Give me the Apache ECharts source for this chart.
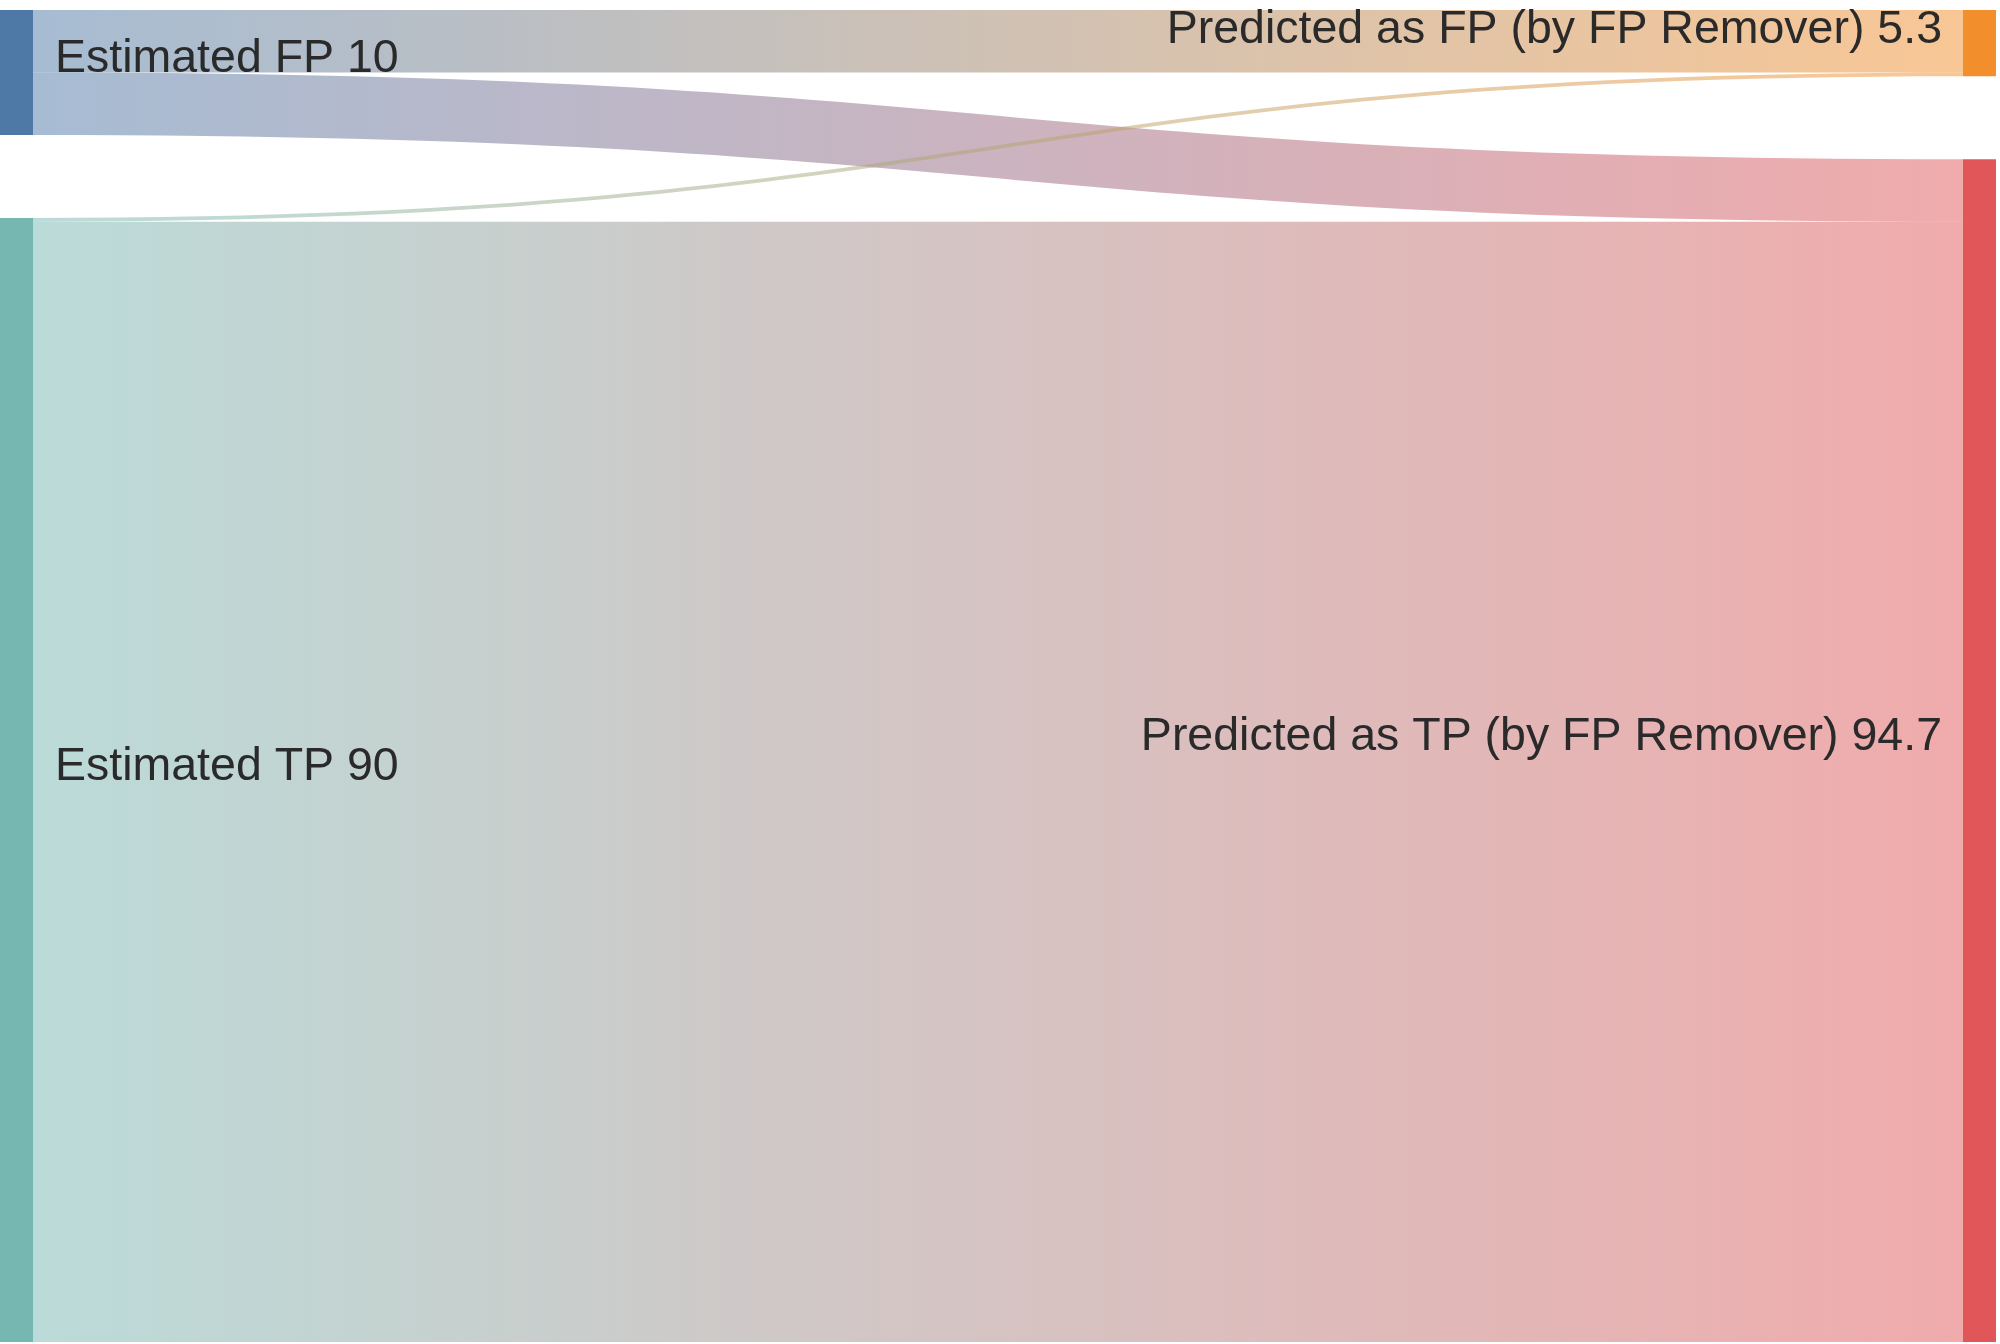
<!DOCTYPE html>
<html>
<head>
<meta charset="utf-8">
<style>html,body{margin:0;padding:0;background:#fff}#chart{width:2000px;height:1344px}</style>
<script src="https://cdn.jsdelivr.net/npm/echarts@6/dist/echarts.min.js"></script>
</head>
<body>
<div id="chart"></div>
<script>
const nodeNames = ['Estimated FP', 'Estimated TP', 'Predicted as FP (by FP Remover)', 'Predicted as TP (by FP Remover)'];
const nodeValues = [10, 90, 5.3, 94.7];
const nodeColors = ['#4e79a7', '#76b7b2', '#f28e2b', '#e15759'];
const linkSources = ['Estimated FP', 'Estimated FP', 'Estimated TP', 'Estimated TP'];
const linkTargets = ['Predicted as FP (by FP Remover)', 'Predicted as TP (by FP Remover)', 'Predicted as FP (by FP Remover)', 'Predicted as TP (by FP Remover)'];
const linkValues = [5.0, 5.0, 0.3, 89.7];

const chart = echarts.init(document.getElementById('chart'), null, {renderer: 'canvas'});
const nodes = nodeNames.map((n, i) => ({
  name: n,
  value: nodeValues[i],
  itemStyle: {color: nodeColors[i], borderWidth: 0},
  label: {position: i < 2 ? 'right' : 'left', distance: i < 2 ? 22 : 21}
}));
const links = linkSources.map((s, i) => ({source: s, target: linkTargets[i], value: linkValues[i]}));

chart.setOption({
  animation: false,
  backgroundColor: '#ffffff',
  series: [{
    type: 'sankey',
    left: 0,
    right: 4,
    top: 10,
    bottom: 2,
    nodeWidth: 33,
    nodeGap: 83,
    layoutIterations: 0,
    nodeAlign: 'justify',
    draggable: false,
    emphasis: {disabled: true},
    data: nodes,
    links: links,
    lineStyle: {color: 'gradient', opacity: 0.5, curveness: 0.5},
    label: {
      fontFamily: '"Liberation Sans", Arial, Helvetica, sans-serif',
      fontSize: 46.5,
      color: '#2a2a2a',
      offset: [0, -13],
      formatter: p => p.name + ' ' + (+Number(p.value).toFixed(1))
    }
  }]
});
</script>
</body>
</html>
